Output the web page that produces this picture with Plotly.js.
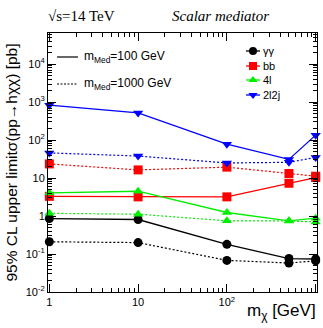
<!DOCTYPE html>
<html><head><meta charset="utf-8">
<script src="https://cdn.plot.ly/plotly-3.0.1.min.js"></script>
<style>html,body{margin:0;padding:0;background:#fff;}</style>
</head><body><div id="chart" style="width:323px;height:328px;"></div>
<script>
// Data
const mChi = [1, 10, 100, 500, 1000];
const seriesNames = ['γγ', 'bb', '4l', '2l2j'];
const seriesColors = ['#000000', '#ff0000', '#00ee00', '#0000ff'];
const seriesSymbols = ['circle', 'square', 'triangle-up', 'triangle-down'];
// mMed = 100 GeV (solid)
const gg100   = [0.86, 0.81, 0.18, 0.076, 0.074];
const bb100   = [3.3, 3.2, 3.2, 7.3, 10.3];
const l4_100  = [4.1, 4.5, 1.24, 0.75, 0.88];
const l2j_100 = [830, 520, 78, 31, 135];
// mMed = 1000 GeV (dashed)
const gg1000   = [0.21, 0.20, 0.068, 0.058, 0.066];
const bb1000   = [23.6, 16.4, 19.4, 13.2, 11.2];
const l4_1000  = [1.18, 1.12, 0.75, 0.74, 0.70];
const l2j_1000 = [46, 38, 25, 26, 35];
const xTickVals = [1, 10, 100, 1000];
const xTickText = ['1', '10', '10<sup>2</sup>', '10<sup>3</sup>'];
const yTickVals = [0.01, 0.1, 1, 10, 100, 1000, 10000];
const yTickText = ['10<sup>-2</sup>', '10<sup>-1</sup>', '1', '10', '10<sup>2</sup>', '10<sup>3</sup>', '10<sup>4</sup>'];
const medLabels = ['m<sub>Med</sub>=100 GeV', 'm<sub>Med</sub>=1000 GeV'];

const solidSets = [gg100, bb100, l4_100, l2j_100];
const dashSets = [gg1000, bb1000, l4_1000, l2j_1000];

const traces = [];
for (let i = 0; i < 4; i++) {
  const base = {
    x: mChi, mode: 'lines+markers', cliponaxis: false, showlegend: false,
    marker: {symbol: seriesSymbols[i], color: seriesColors[i], size: 9},
    name: seriesNames[i]
  };
  traces.push(Object.assign({}, base, {y: dashSets[i], line: {color: seriesColors[i], width: 1.2, dash: '2px,2px'}}));
  traces.push(Object.assign({}, base, {y: solidSets[i], line: {color: seriesColors[i], width: 1.3}}));
}

// Legend geometry (pixel -> paper fractions)
const L = 48, R = 317, T = 33, B = 292;
const fx = p => (p - L) / (R - L);
const fy = p => (B - p) / (B - T);
const legRows = [51, 66, 80, 95];
traces.push({
  x: legRows.map(() => fx(253)), y: legRows.map(fy), xaxis: 'x2', yaxis: 'y2',
  mode: 'markers', showlegend: false, hoverinfo: 'skip', cliponaxis: false,
  marker: {symbol: seriesSymbols, color: seriesColors, size: 8}
});

const shapes = [];
const annotations = [];
legRows.forEach((r, i) => {
  shapes.push({type: 'line', xref: 'paper', yref: 'paper', x0: fx(246), x1: fx(260), y0: fy(r), y1: fy(r),
    line: {color: seriesColors[i], width: 1.3}});
  annotations.push({xref: 'paper', yref: 'paper', x: fx(261), y: fy(r), xanchor: 'left', yanchor: 'middle',
    text: seriesNames[i], showarrow: false, font: {family: 'Liberation Sans, Arial', size: 11, color: '#000'}});
});
const medRows = [57, 84];
medRows.forEach((r, i) => {
  shapes.push({type: 'line', xref: 'paper', yref: 'paper', x0: fx(57), x1: fx(78), y0: fy(r), y1: fy(r),
    line: {color: '#000', width: 1.2, dash: i === 0 ? 'solid' : '2px,1.5px'}});
  annotations.push({xref: 'paper', yref: 'paper', x: fx(82), y: fy(r), xanchor: 'left', yanchor: 'middle',
    text: medLabels[i], showarrow: false, font: {family: 'Liberation Sans, Arial', size: 12, color: '#000'}});
});
annotations.push({xref: 'paper', yref: 'paper', x: fx(46), y: fy(16), xanchor: 'left', yanchor: 'middle',
  text: '√s=14 TeV', showarrow: false, font: {family: 'Liberation Serif, Times New Roman', size: 15, color: '#000'}});
annotations.push({xref: 'paper', yref: 'paper', x: fx(170), y: fy(16), xanchor: 'left', yanchor: 'middle',
  text: '<i>Scalar mediator</i>', showarrow: false, font: {family: 'Liberation Serif, Times New Roman', size: 15, color: '#000'}});
annotations.push({xref: 'paper', yref: 'paper', x: 1.005, y: fy(312), xanchor: 'right', yanchor: 'middle',
  text: 'm<sub>χ</sub> [GeV]', showarrow: false, font: {family: 'Liberation Sans, Arial', size: 17, color: '#000'}});

function minorVals(lo, hi) {
  const v = [];
  for (let d = lo; d < hi; d++) for (let k = 2; k <= 9; k++) v.push(k * Math.pow(10, d));
  return v;
}

const axisCommon = {
  type: 'log', showgrid: false, zeroline: false, showline: true, linecolor: '#000', linewidth: 1,
  mirror: 'allticks', ticks: 'inside', ticklen: 8, tickwidth: 1, tickcolor: '#000',
  tickmode: 'array', tickfont: {family: 'Liberation Sans, Arial', size: 11, color: '#000'}
};

const layout = {
  width: 323, height: 328,
  margin: {l: L, r: 323 - R, t: T, b: 328 - B},
  paper_bgcolor: '#fff', plot_bgcolor: '#fff',
  showlegend: false,
  xaxis: Object.assign({}, axisCommon, {
    range: [-0.015, 3.015], tickvals: xTickVals, ticktext: xTickText,
    minor: {tickmode: 'array', tickvals: minorVals(0, 3), ticks: 'inside', ticklen: 4, tickcolor: '#000', tickwidth: 1}
  }),
  yaxis: Object.assign({}, axisCommon, {
    range: [-2, 4.82], tickvals: yTickVals, ticktext: yTickText,
    minor: {tickmode: 'array', tickvals: minorVals(-2, 5), ticks: 'inside', ticklen: 4, tickcolor: '#000', tickwidth: 1},
    title: {text: '95% CL upper limitσ(pp→hχχ) [pb]', standoff: 4,
      font: {family: 'Liberation Sans, Arial', size: 15.5, color: '#000'}}
  }),
  xaxis2: {overlaying: 'x', range: [0, 1], visible: false, fixedrange: true},
  yaxis2: {overlaying: 'y', range: [0, 1], visible: false, fixedrange: true},
  shapes: shapes,
  annotations: annotations
};

Plotly.newPlot('chart', traces, layout, {displayModeBar: false, staticPlot: true});
</script></body></html>
